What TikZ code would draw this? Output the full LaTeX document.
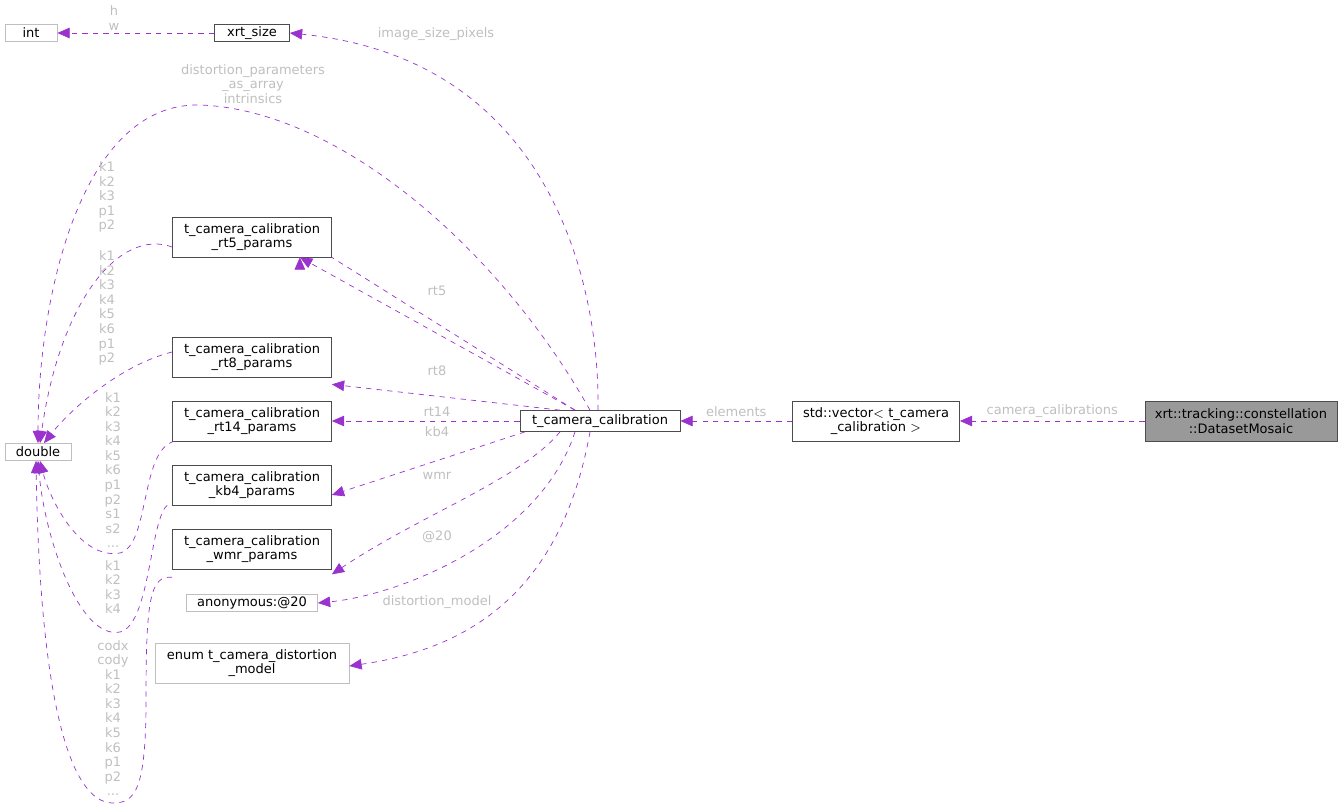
\documentclass[tikz,border=0pt]{standalone}
\usepackage{fontspec}
\setmainfont{DejaVu Sans}
\usetikzlibrary{arrows.meta}
\definecolor{edgepurple}{HTML}{9A32CD}
\definecolor{labelgray}{HTML}{BFBFBF}
\definecolor{boxgray}{HTML}{BFBFBF}
\definecolor{mainfill}{HTML}{999999}

\begin{document}
\begin{tikzpicture}[x=0.02cm,y=-0.02cm,font=\fontsize{7.4}{8.4}\selectfont]
    %
    % `cls' is a documented class, `ext' an undocumented type.
    % `dep' is the dashed usage edge, `lbl' its member name.
    \tikzstyle{cls} = [draw=black!70,fill=white,align=center,inner sep=1pt]
    \tikzstyle{ext} = [draw=boxgray,fill=white,align=center,inner sep=1pt]
    \tikzstyle{dep} = [edgepurple,dashed,thin,-{Triangle[length=7pt,width=6pt]}]
    \tikzstyle{lbl} = [text=labelgray,align=center,inner sep=0pt,font=\fontsize{7.4}{8.3}\selectfont]
    \useasboundingbox (0,0) rectangle (1344,811);
    %
    % Left column
    \node[ext,minimum width=52*0.02cm,minimum height=17*0.02cm] (int) at (31,33) {int};
    \node[cls,minimum width=75*0.02cm,minimum height=17*0.02cm] (size) at (252,33) {xrt\_size};
    \node[ext,minimum width=66*0.02cm,minimum height=17*0.02cm] (double) at (38,452) {double};
    %
    % Parameter structs
    \node[cls,minimum width=159*0.02cm,minimum height=40*0.02cm] (rt5) at (252,237) {t\_camera\_calibration\\\_rt5\_params};
    \node[cls,minimum width=159*0.02cm,minimum height=40*0.02cm] (rt8) at (252,357) {t\_camera\_calibration\\\_rt8\_params};
    \node[cls,minimum width=159*0.02cm,minimum height=40*0.02cm] (rt14) at (252,421) {t\_camera\_calibration\\\_rt14\_params};
    \node[cls,minimum width=159*0.02cm,minimum height=40*0.02cm] (kb4) at (252,485) {t\_camera\_calibration\\\_kb4\_params};
    \node[cls,minimum width=159*0.02cm,minimum height=40*0.02cm] (wmr) at (252,549) {t\_camera\_calibration\\\_wmr\_params};
    \node[ext,minimum width=131*0.02cm,minimum height=17*0.02cm] (anon) at (252,603) {anonymous:@20};
    \node[ext,minimum width=194*0.02cm,minimum height=40*0.02cm] (model) at (252,663) {enum t\_camera\_distortion\\\_model};
    %
    % Right side
    \node[cls,minimum width=160*0.02cm,minimum height=21*0.02cm] (calib) at (600,421) {t\_camera\_calibration};
    \node[cls,minimum width=167*0.02cm,minimum height=40*0.02cm] (vec) at (876,421) {std::vector$<$ t\_camera\\\_calibration $>$};
    \node[cls,fill=mainfill,minimum width=192*0.02cm,minimum height=40*0.02cm] (mosaic) at (1241,421) {xrt::tracking::constellation\\::DatasetMosaic};
    %
    % Edges on the right
    \draw[dep] (mosaic) -- (vec) node[lbl,pos=0.5,above=2pt] {camera\_calibrations};
    \draw[dep] (vec) -- (calib) node[lbl,pos=0.5,above=2pt] {elements};
    \draw[dep] (size) -- (int);
    \node[lbl] at (114,18) {h\\w};
    %
    % Edges from t_camera_calibration
    \draw[dep] (calib.north) ++(-2,0) .. controls (600,300) and (560,60) .. (size.east);
    \node[lbl] at (436,34) {image\_size\_pixels};
    \draw[dep] (calib.north) ++(-10,0) .. controls (500,250) and (340,110) .. (200,105) .. controls (80,102) and (38,300) .. (double.north);
    \node[lbl] at (253,84) {distortion\_parameters\\\_as\_array\\intrinsics};
    \draw[dep] (calib.north) ++(-25,0) -- (rt5.south east) ++(-32,0);
    \draw[dep] ([xshift=-25*0.02cm]calib.north) -- ([xshift=48*0.02cm]rt5.south);
    \node[lbl] at (437,291) {rt5};
    \draw[dep] ([xshift=-40*0.02cm]calib.north) -- ([yshift=-7*0.02cm]rt8.south east);
    \node[lbl] at (437,371) {rt8};
    \draw[dep] (calib.west) -- (rt14.east);
    \node[lbl] at (437,412) {rt14};
    \draw[dep] ([xshift=-75*0.02cm]calib.south) -- ([yshift=-10*0.02cm]kb4.east);
    \node[lbl] at (437,432) {kb4};
    \draw[dep] ([xshift=-40*0.02cm]calib.south) .. controls (520,480) and (420,515) .. ([yshift=-5*0.02cm]wmr.south east);
    \node[lbl] at (437,476) {wmr};
    \draw[dep] ([xshift=-25*0.02cm]calib.south) .. controls (540,540) and (400,595) .. (anon.east);
    \node[lbl] at (437,537) {@20};
    \draw[dep] ([xshift=-10*0.02cm]calib.south) .. controls (560,600) and (460,650) .. ([yshift=-3*0.02cm]model.east);
    \node[lbl] at (437,602) {distortion\_model};
    %
    % Edges into double
    \draw[dep] ([yshift=-10*0.02cm]rt5.west) .. controls (120,228) and (60,300) .. ([xshift=2*0.02cm]double.north);
    \node[lbl] at (107,197) {k1\\k2\\k3\\p1\\p2};
    \draw[dep] ([yshift=5*0.02cm]rt8.west) .. controls (120,365) and (70,410) .. ([xshift=6*0.02cm]double.north);
    \node[lbl] at (107,308) {k1\\k2\\k3\\k4\\k5\\k6\\p1\\p2};
    \draw[dep] ([xshift=2*0.02cm]rt14.south west) .. controls (140,450) and (150,545) .. (120,553) .. controls (80,560) and (50,500) .. ([xshift=2*0.02cm]double.south);
    \node[lbl] at (113,470) {k1\\k2\\k3\\k4\\k5\\k6\\p1\\p2\\s1\\s2\\...};
    \draw[dep] ([xshift=-5*0.02cm]kb4.south west) .. controls (150,520) and (150,625) .. (120,632) .. controls (80,640) and (45,540) .. (double.south);
    \node[lbl] at (113,587) {k1\\k2\\k3\\k4};
    \draw[dep] ([yshift=-8*0.02cm]wmr.south west) .. controls (150,575) and (146,600) .. (146,700) .. controls (146,790) and (135,803) .. (113,803) .. controls (70,803) and (40,700) .. ([xshift=-2*0.02cm]double.south);
    \node[lbl] at (113,718) {codx\\cody\\k1\\k2\\k3\\k4\\k5\\k6\\p1\\p2\\...};
\end{tikzpicture}
\end{document}
